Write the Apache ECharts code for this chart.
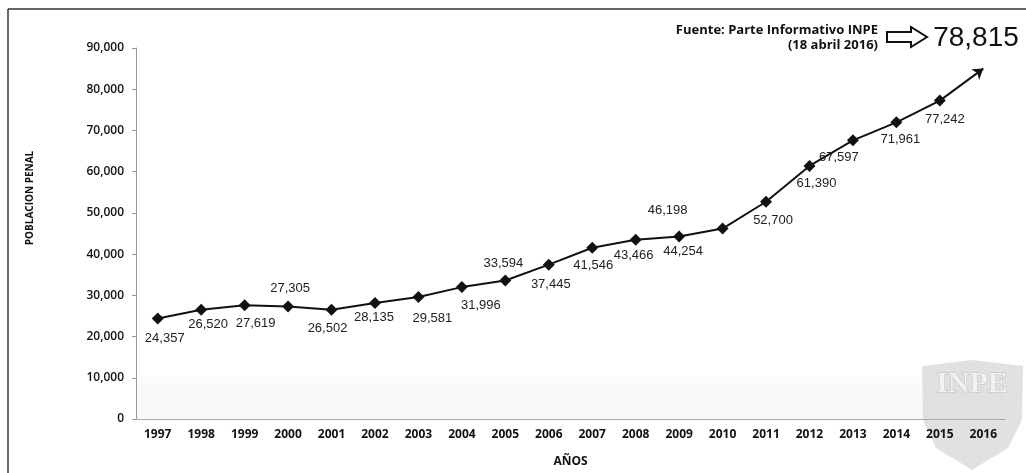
<!DOCTYPE html>
<html>
<head>
<meta charset="utf-8">
<script src="https://cdn.jsdelivr.net/npm/echarts@6/dist/echarts.min.js"></script>
<style>
html,body{margin:0;padding:0;background:#fff;}
#c{width:1026px;height:473px;}
</style>
</head>
<body>
<div id="c"></div>
<script>
const years = ['1997','1998','1999','2000','2001','2002','2003','2004','2005','2006','2007','2008','2009','2010','2011','2012','2013','2014','2015','2016'];
const population = [24357,26520,27619,27305,26502,28135,29581,31996,33594,37445,41546,43466,44254,46198,52700,61390,67597,71961,77242];
const yTicks = [0,10000,20000,30000,40000,50000,60000,70000,80000,90000];
const trendFrom = ['2015', 77242];
const trendTo = ['2016', 85000];
const latestValue = 78815;
const sourceText = 'Fuente: Parte Informativo INPE';
const sourceDate = '(18 abril 2016)';

// label offsets (style, not data)
const labelOffsets = [[7,20],[7,15],[11,18],[2,-18],[-4,19],[-1,14],[14,21],[19,18],[-2,-17],[2,20],[1,18],[-2,16],[4,15],[-55,-18],[7,19],[7,17],[-14,17],[4,17],[5,19]];

const fmt = v => v.toLocaleString('en-US');

const chart = echarts.init(document.getElementById('c'));
chart.setOption({
  animation: false,
  backgroundColor: '#fff',
  grid: {left: 136, right: 21, top: 48, bottom: 54, containLabel: false},
  xAxis: {
    type: 'category',
    data: years,
    boundaryGap: true,
    name: 'AÑOS',
    nameLocation: 'middle',
    nameGap: 37,
    nameTextStyle: {fontFamily: 'Open Sans', fontWeight: 'bold', fontSize: 12, color: '#111'},
    axisLine: {lineStyle: {color: '#aaa', width: 1}},
    axisTick: {show: false},
    axisLabel: {fontFamily: 'Open Sans', fontWeight: 'bold', fontSize: 12, color: '#111', margin: 10}
  },
  yAxis: {
    type: 'value',
    min: yTicks[0],
    max: yTicks[yTicks.length - 1],
    interval: yTicks[1] - yTicks[0],
    axisLine: {show: true, lineStyle: {color: '#999', width: 1}},
    axisTick: {show: true, length: 4, lineStyle: {color: '#999'}},
    splitLine: {show: false},
    axisLabel: {fontFamily: 'Open Sans', fontWeight: 600, fontSize: 12, color: '#111', margin: 12,
      formatter: v => fmt(v)}
  },
  graphic: [
    {type: 'rect', z: -20, shape: {x: 136, y: 377, width: 869, height: 42}, style: {fill: '#fafafa'}},
    {type: 'line', shape: {x1: 8, y1: 9, x2: 1026, y2: 9}, style: {stroke: '#333', lineWidth: 1.5}},
    {type: 'line', shape: {x1: 8, y1: 9, x2: 8, y2: 473}, style: {stroke: '#333', lineWidth: 1.5}},
    {type: 'text', x: 30, y: 198, rotation: Math.PI / 2,
      style: {text: 'POBLACION PENAL', fontFamily: 'Open Sans', fontWeight: 'bold', fontSize: 10, fill: '#111', textAlign: 'center', textVerticalAlign: 'middle'}},
    {type: 'text', x: 878, y: 30,
      style: {text: sourceText, fontFamily: 'Open Sans', fontWeight: 'bold', fontSize: 13, fill: '#111', textAlign: 'right', textVerticalAlign: 'middle'}},
    {type: 'text', x: 878, y: 45,
      style: {text: sourceDate, fontFamily: 'Open Sans', fontWeight: 'bold', fontSize: 13, fill: '#111', textAlign: 'right', textVerticalAlign: 'middle'}},
    {type: 'polygon', shape: {points: [[887,32],[911,32],[911,27],[927,37],[911,47],[911,42],[887,42]]},
      style: {fill: '#fff', stroke: '#111', lineWidth: 2}},
    {type: 'text', x: 976, y: 38,
      style: {text: fmt(latestValue), fontFamily: 'Liberation Sans', fontSize: 28, fill: '#111', textAlign: 'center', textVerticalAlign: 'middle'}},
    {type: 'polygon', z: -10, shape: {points: [[922,366],[972,360],[1023,366],[1022,420],[1008,448],[972,470],[936,448],[923,420]]},
      style: {fill: '#d9d9d9', opacity: 0.8}},
    {type: 'text', z: -9, x: 972, y: 384,
      style: {text: 'INPE', fontFamily: 'Liberation Serif', fontWeight: 'bold', fontSize: 30, fill: '#f2f2f2', stroke: '#bdbdbd', lineWidth: 1, textAlign: 'center', textVerticalAlign: 'middle'}}
  ],
  series: [{
    type: 'line',
    data: population.map((v, i) => ({
      value: v,
      label: {offset: labelOffsets[i]}
    })),
    symbol: 'diamond',
    symbolSize: 12,
    itemStyle: {color: '#111'},
    lineStyle: {color: '#111', width: 2},
    label: {
      show: true,
      position: 'inside',
      fontFamily: 'Liberation Sans',
      fontSize: 13,
      color: '#222',
      formatter: p => fmt(p.value)
    },
    markLine: {
      silent: true,
      symbol: ['none', 'arrow'],
      symbolSize: 10,
      label: {show: false},
      lineStyle: {color: '#111', width: 2, type: 'solid'},
      data: [[{coord: trendFrom}, {coord: trendTo}]]
    }
  }]
});
</script>
</body>
</html>
